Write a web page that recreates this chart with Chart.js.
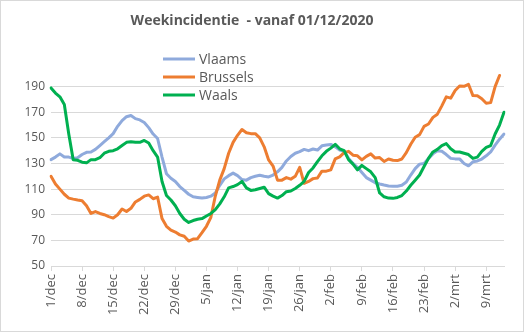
<!DOCTYPE html>
<html>
<head>
<meta charset="utf-8">
<script src="https://cdn.jsdelivr.net/npm/chart.js@4"></script>
<style>
  body { margin: 0; background: #fff; }
</style>
</head>
<body>
<canvas id="weekChart" width="524" height="332"></canvas>
<script>
// tick labels: one per day, 1/dec 2020 .. 13/mrt 2021
const months = ['dec', 'jan', 'feb', 'mrt'];
const monthDays = [31, 31, 28, 13];
const labels = [];
months.forEach((m, mi) => {
  for (let d = 1; d <= monthDays[mi]; d++) labels.push(d + '/' + m);
});

const yTicks = [50, 70, 90, 110, 130, 150, 170, 190];

const vlaams = [
  133, 135, 137.5, 135, 135, 134, 134.5, 137, 138.7, 139,
  141, 144, 147, 150, 153.3, 159, 163.5, 166.5, 167.5, 165,
  164, 162, 158, 153, 149.5, 135, 122, 118.5, 116, 112,
  109, 106, 104, 103.5, 103, 103.5, 104.5, 107, 113, 118,
  120.5, 122.5, 120.5, 117.5, 117, 119, 120, 120.8, 120, 119.5,
  121, 123.5, 127, 132, 135.5, 138, 139.2, 141, 140, 141.3,
  140.5, 143.8, 144.4, 144.9, 143, 140.5, 139.5, 134, 130, 127,
  123, 119, 117, 115, 114, 113.2, 112.5, 112.3, 112.3, 113,
  115.5, 121, 126, 129.5, 130, 134, 137.5, 140, 139.5, 137,
  134, 133.6, 133.6, 130, 128.2, 131.3, 132, 133.5, 136, 139,
  144.3, 149, 153
];

const brussels = [
  120, 114, 110, 106, 103, 102.2, 101.5, 101, 97, 91,
  92.5, 91, 90, 88.5, 87.4, 90, 94.5, 92.5, 95, 100,
  102, 104.5, 105.5, 102.5, 103.8, 87, 81, 78, 76.5, 74.3,
  73.2, 69.5, 71, 71.3, 76, 81, 88, 104.6, 117, 126,
  138, 146.5, 152, 156.5, 154, 153.3, 153.3, 150, 143, 132.8,
  128, 117, 117, 119, 117.8, 120, 127, 114.5, 116, 118.2,
  118.7, 124, 124, 125, 133.6, 135.2, 138.5, 139.5, 136.5, 136,
  132.8, 135.6, 137.5, 134.2, 134.6, 131.6, 133.5, 132.5, 132.3, 133.5,
  138.5, 145, 150.5, 152.5, 159, 160.8, 166, 168.5, 175, 182,
  181, 187, 190.5, 190.2, 191.8, 183, 182.8, 180.5, 177, 177.5,
  190, 198.7, null
];

const waals = [
  189, 185, 182, 176, 153, 133, 132.5, 131, 130.5, 133,
  133, 134.5, 138, 139.5, 140, 141.5, 144, 146.5, 147, 146.5,
  146.5, 148, 146, 140, 135, 116, 105, 101.5, 97, 91,
  86.5, 84, 85.5, 86.5, 87, 89, 91, 94, 98.5, 104,
  111, 112, 113.5, 116, 111, 109, 109.5, 110.5, 111.5, 106.5,
  104.5, 103, 105, 108, 108.5, 110.5, 113, 116, 123, 126.5,
  131.5, 136, 139.5, 142, 145, 141.5, 140, 133, 129.5, 125,
  128.5, 126, 123.5, 119, 107, 104, 103, 102.8, 103.5, 105,
  108.5, 113, 117, 121, 127.7, 134, 139, 141, 144, 145.5,
  141.5, 139, 139, 138, 137, 134, 135, 139.5, 142.5, 144,
  153, 160, 170
];

const textColor = '#595959';
const gridColor = '#d9d9d9';

// white background + light chart border, like the spreadsheet chart
const frame = {
  id: 'frame',
  beforeDraw(chart) {
    const ctx = chart.ctx;
    ctx.save();
    ctx.fillStyle = '#fff';
    ctx.fillRect(0, 0, chart.width, chart.height);
    ctx.strokeStyle = gridColor;
    ctx.lineWidth = 1;
    ctx.strokeRect(0.5, 0.5, chart.width - 1, chart.height - 1);
    ctx.restore();
  }
};

// vertical legend inside the plot
const stackedLegend = {
  id: 'stackedLegend',
  afterDraw(chart) {
    const ctx = chart.ctx;
    ctx.save();
    ctx.font = '14px "Open Sans"';
    ctx.textBaseline = 'middle';
    chart.data.datasets.forEach((ds, i) => {
      const y = 59 + i * 18;
      ctx.strokeStyle = ds.borderColor;
      ctx.lineWidth = 3;
      ctx.beginPath();
      ctx.moveTo(163, y);
      ctx.lineTo(195, y);
      ctx.stroke();
      ctx.fillStyle = textColor;
      ctx.fillText(ds.label, 199, y + 1);
    });
    ctx.restore();
  }
};

const weekConfig = {
  type: 'line',
  data: {
    labels: labels,
    datasets: [
      { label: 'Vlaams', data: vlaams, borderColor: '#8faadc', order: 2 },
      { label: 'Brussels', data: brussels, borderColor: '#ed7d31', order: 1 },
      { label: 'Waals', data: waals, borderColor: '#00b050', order: 0 }
    ]
  },
  options: {
    responsive: false,
    animation: false,
    layout: { padding: { left: 0, right: 20, top: 0, bottom: 0 } },
    elements: {
      line: { borderWidth: 3, tension: 0, borderCapStyle: 'round', borderJoinStyle: 'round' },
      point: { radius: 0 }
    },
    plugins: {
      legend: { display: false },
      tooltip: { enabled: false },
      title: {
        display: true,
        text: 'Weekincidentie  - vanaf 01/12/2020',
        color: textColor,
        font: { family: '"Open Sans"', size: 14, weight: 'bold' },
        padding: { top: 13, bottom: 44 }
      }
    },
    scales: {
      x: {
        afterFit: s => { s.height = 66; },
        afterBuildTicks: s => { s.ticks = s.ticks.filter(t => t.value % 7 === 0); },
        grid: { drawOnChartArea: false, drawTicks: true, tickLength: 5, color: gridColor },
        border: { color: gridColor },
        ticks: {
          autoSkip: false,
          minRotation: 90,
          maxRotation: 90,
          padding: 3,
          color: textColor,
          font: { family: '"Open Sans"', size: 13 }
        }
      },
      y: {
        min: 50,
        max: 200,
        afterFit: s => { s.width = 51; },
        afterBuildTicks: s => { s.ticks = yTicks.map(v => ({ value: v })); },
        grid: { color: gridColor, drawTicks: false },
        border: { display: false },
        ticks: {
          padding: 6,
          color: textColor,
          font: { family: '"Open Sans"', size: 12 }
        }
      }
    }
  },
  plugins: [frame, stackedLegend]
};

var weekChart = new Chart(
  document.getElementById('weekChart'),
  weekConfig
);
</script>
</body>
</html>
